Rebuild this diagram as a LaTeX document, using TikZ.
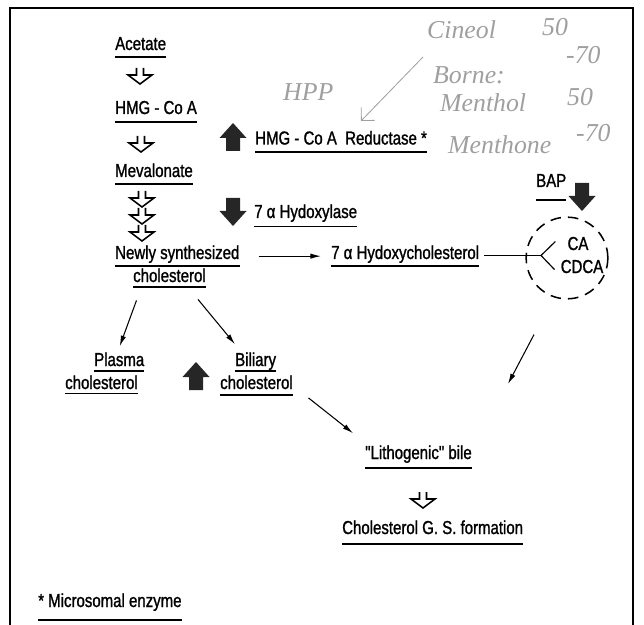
\documentclass[tikz,border=0pt]{standalone}
\usepackage{fontspec}
\setmainfont{Liberation Sans}[FakeStretch=0.8,FakeBold=1.2]
\newfontfamily\quotefont{Liberation Sans}[FakeStretch=0.8,FakeBold=1.2,Ligatures=TeXOff]
\newfontfamily\handfont{Liberation Serif}
\usetikzlibrary{arrows.meta, positioning, calc}

\begin{document}
\begin{tikzpicture}[x=0.03cm, y=-0.03cm, t/.style={inner sep=0pt,anchor=base west,font=\fontsize{16}{18}\selectfont}, ul/.style={line width=1.4pt}, arr/.style={-{Latex[length=9pt,width=4.5pt]},line width=0.9pt}, hand/.style={gray!75,inner sep=0pt,anchor=west,font=\handfont\itshape\fontsize{22}{24}\selectfont}, hollow/.pic={\draw[line width=1.3pt,line join=miter] (-3.5,-8)--(-3.5,-1)--(-12,-1)--(0,8)--(12,-1)--(3.5,-1)--(3.5,-8);}, blk/.pic={\fill[black!85] (-7,14)--(-7,1)--(-13.5,1)--(0,-14)--(13.5,1)--(7,1)--(7,14)--cycle;}]
  \useasboundingbox (0,0) rectangle (644,625);
  \draw[line width=1.6pt] (10,640) -- (10,8) -- (633,8) -- (633,640);
  \node[t](ace) at (115,50){Acetate};
  \node[t](hmg) at (115,114){HMG - Co A};
  \node[t](mev) at (115,177){Mevalonate};
  \node[t](new) at (115,259){Newly synthesized};
  \node[t](chol) at (133,282){cholesterol};
  \node[t](red) at (255,144.5){HMG - Co A\ \ Reductase *};
  \node[t](hyd) at (254,218){7 α Hydoxylase};
  \node[t](hch) at (331,259){7 α Hydoxycholesterol};
  \node[t](bap) at (536,187){BAP};
  \node[t,anchor=base](ca) at (578,250){CA};
  \node[t,anchor=base](cdca) at (582,273){CDCA};
  \node[t](pl1) at (94,366){Plasma};
  \node[t](pl2) at (65,389){cholesterol};
  \node[t](bi1) at (235,366){Biliary};
  \node[t](bi2) at (220,389){cholesterol};
  \node[t](lith) at (365,459){{\quotefont"}Lithogenic{\quotefont"} bile};
  \node[t](gs) at (342,534){Cholesterol G. S. formation};
  \node[t](mic) at (38,607){* Microsomal enzyme};
  \node[circle,draw,line width=1.3pt,dash pattern=on 9pt off 6pt,minimum size=2.45cm](circ) at (567,258){};
  \foreach \n/\d in {ace/7,hmg/8,mev/7,new/7,chol/5,red/7.5,hyd/8.5,hch/7,bap/13,pl1/5,pl2/4.5,bi1/5,bi2/6,lith/9,gs/10,mic/13}{\draw[ul]($(\n.base west)+(0,\d)$)--($(\n.base east)+(0,\d)$);}
  \foreach \x/\y in {140/76,141/144,142/199,142/216,142/233,423/500}{\pic at (\x,\y){hollow};}
  \pic at (233,137){blk};
  \pic[rotate=180] at (233,212){blk};
  \pic[rotate=180] at (582,197){blk};
  \pic at (196,376){blk};
  \coordinate(fk) at (541,255.5);
  \coordinate(bileend) at (508,384);
  \draw[arr]($(new.east)+(19,2)$)--($(hch.west)+(-10,2)$);
  \draw[line width=1pt]($(hch.east |- fk)+(5,0)$)--(fk);
  \draw[line width=1pt]($(ca.west)+(-12,-2)$)--(fk)--($(cdca.west)+(-6,3)$);
  \draw[arr]($(chol.south)+(-33,18)$)--($(pl1.north)+(0.5,-6)$);
  \draw[arr]($(chol.south)+(28.5,17)$)--($(bi1.north west)+(0,-8)$);
  \draw[arr]($(bi2.south east)+(15.5,8.5)$)--($(lith.north west)+(-12,-12)$);
  \draw[arr]($(circ.south)+(-33,35)$)--(bileend);
  \node[hand](h1) at (427,30){Cineol};
  \node[hand](h2) at (542,27){50};
  \node[hand](h3) at (566,55){-70};
  \node[hand](h4) at (433,75){Borne:};
  \node[hand](h5) at (440,103){Menthol};
  \node[hand](h6) at (567,97){50};
  \node[hand](h7) at (448,145){Menthone};
  \node[hand](h8) at (576,133){-70};
  \node[hand](h9) at (283,92){HPP};
  \coordinate(pa) at (423,57);
  \coordinate(pb) at (361,121);
  \draw[gray!75,line width=0.7pt,-{Straight Barb[length=8pt]}](pa)--(pb);
\end{tikzpicture}
\end{document}
